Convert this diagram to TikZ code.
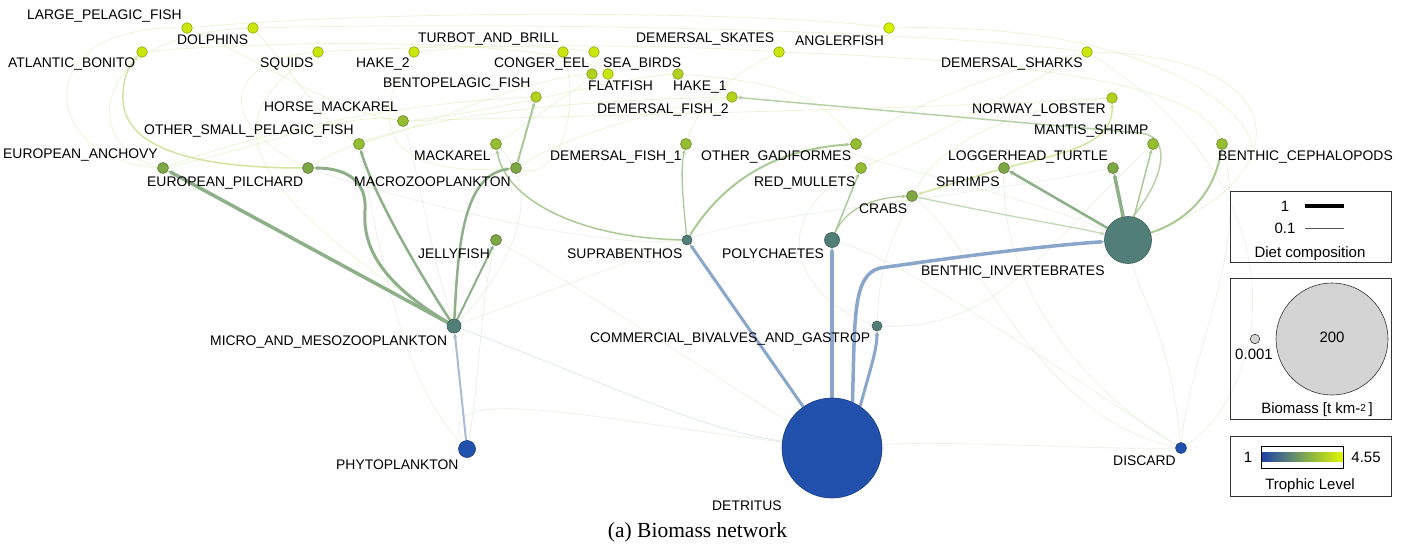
\documentclass[tikz,border=0pt]{standalone}
\usepackage{fontspec}
\setmainfont{Liberation Sans}
\newfontfamily\capfont{Liberation Serif}
\usetikzlibrary{arrows.meta,backgrounds}
\definecolor{tA}{HTML}{2251AD}
\definecolor{tT}{HTML}{527E78}
\definecolor{tB}{HTML}{7DA744}
\definecolor{tC}{HTML}{94BD32}
\definecolor{tD}{HTML}{B0D21F}
\definecolor{tE}{HTML}{C9E60E}
\definecolor{tF}{HTML}{D6F000}
\definecolor{eblue}{HTML}{8AA6CA}
\definecolor{eblueL}{HTML}{A8BCD8}
\definecolor{egreen}{HTML}{8DB088}
\definecolor{elgreen}{HTML}{A9C995}
\definecolor{eyg}{HTML}{CFE5A0}
\definecolor{efaint}{HTML}{D5E4C6}
\definecolor{legc}{HTML}{333333}
\definecolor{cbA}{HTML}{1C3FA6}
\definecolor{cbB}{HTML}{5A8278}
\definecolor{cbC}{HTML}{96BE3A}
\definecolor{cbD}{HTML}{E2F700}
\pgfdeclarehorizontalshading{tlshade}{20bp}{color(0bp)=(cbA); color(25bp)=(cbA); color(42bp)=(cbB); color(58bp)=(cbC); color(75bp)=(cbD); color(100bp)=(cbD)}
\tikzset{
  sp/.style={circle, inner sep=0pt, line width=0.6pt},
  lbl/.style={anchor=base west, inner sep=0pt, font=\fontsize{13.9}{16}\selectfont},
  leg/.style={anchor=base, inner sep=0pt, font=\fontsize{15}{18}\selectfont},
  arr/.style={-{Stealth[length=4.5pt,width=4pt]}},
  eB/.style={arr, draw=eblue},
  eBl/.style={arr, draw=eblueL},
  eG/.style={arr, draw=egreen},
  eLG/.style={arr, draw=elgreen},
  eYG/.style={arr, draw=eyg},
  fy/.style={draw=eyg, line width=0.8pt, opacity=0.42},
  fg/.style={draw=efaint, line width=0.7pt, opacity=0.5},
  fb/.style={draw=eblueL, line width=0.7pt, opacity=0.4},
  legbox/.style={draw=legc, line width=0.8pt, inner sep=0pt, minimum width=161pt}
}
\newcommand\species[8]{%
  \node[sp, minimum size=#4pt, fill=#5, draw=#5!72!black] (#1) at (#2,#3) {};
  \node[lbl] (#1-lab) at (#6,#7+5) {#8};}
\begin{document}
\begin{tikzpicture}[x=1pt,y=-1pt]
\useasboundingbox (0,0) rectangle (1410,548);
% ---------- species ----------
\species{LPF}{187}{28}{10.6}{tE}{27}{15}{LARGE\_PELAGIC\_FISH}
\species{DOL}{253}{28}{10.6}{tE}{177}{40}{DOLPHINS}
\species{ATB}{142}{52}{10.6}{tE}{8}{63}{ATLANTIC\_BONITO}
\species{SQU}{318}{52}{10.6}{tE}{260}{63}{SQUIDS}
\species{HKB}{414}{52}{10.6}{tE}{356}{63}{HAKE\_2}
\species{TUR}{563}{52}{10.6}{tE}{418}{38}{TURBOT\_AND\_BRILL}
\species{CON}{594}{52}{10.6}{tE}{494}{63}{CONGER\_EEL}
\species{SEA}{608}{74}{10.6}{tE}{603}{63}{SEA\_BIRDS}
\species{FLA}{592}{74}{10.6}{tD}{588}{86}{FLATFISH}
\species{HKA}{678}{74}{10.6}{tD}{673}{86}{HAKE\_1}
\species{BEN}{536}{97}{10.6}{tD}{383}{83}{BENTOPELAGIC\_FISH}
\species{DSK}{779}{52}{10.6}{tE}{636}{38}{DEMERSAL\_SKATES}
\species{ANG}{889}{28}{10.6}{tF}{795}{41}{ANGLERFISH}
\species{DSH}{1087}{52}{10.6}{tE}{941}{63}{DEMERSAL\_SHARKS}
\species{DFB}{732}{97}{10.6}{tD}{597}{109}{DEMERSAL\_FISH\_2}
\species{HOR}{403}{121}{11}{tC}{264}{107}{HORSE\_MACKAREL}
\species{OSP}{359}{144}{11}{tC}{144}{130}{OTHER\_SMALL\_PELAGIC\_FISH}
\species{MAC}{496}{144}{11}{tC}{414}{156}{MACKAREL}
\species{DFA}{686}{144}{11}{tC}{550}{156}{DEMERSAL\_FISH\_1}
\species{OGA}{856}{144}{11}{tC}{701}{156}{OTHER\_GADIFORMES}
\species{NOR}{1112}{98}{10.6}{tD}{972}{109}{NORWAY\_LOBSTER}
\species{MAN}{1153}{144}{11}{tC}{1034}{130}{MANTIS\_SHRIMP}
\species{BCE}{1222}{144}{11}{tC}{1218}{156}{BENTHIC\_CEPHALOPODS}
\species{LOG}{1113}{168}{11}{tB}{948}{156}{LOGGERHEAD\_TURTLE}
\species{SHR}{1004}{168}{11}{tB}{936}{181}{SHRIMPS}
\species{RMU}{861}{168}{11}{tC}{754}{181}{RED\_MULLETS}
\species{CRA}{912}{196}{11}{tB}{859}{208}{CRABS}
\species{ANC}{163}{168}{11}{tB}{3}{154}{EUROPEAN\_ANCHOVY}
\species{PIL}{308}{168}{11}{tB}{147}{181}{EUROPEAN\_PILCHARD}
\species{MZP}{516}{168}{11}{tB}{354}{181}{MACROZOOPLANKTON}
\species{JEL}{496}{240}{11}{tB}{418}{253}{JELLYFISH}
\species{SUP}{687}{240}{10}{tT}{567}{253}{SUPRABENTHOS}
\species{POL}{832}{240}{15}{tT}{722}{253}{POLYCHAETES}
\species{BIN}{1128}{240}{47}{tT}{921}{270}{BENTHIC\_INVERTEBRATES}
\species{MIC}{454}{326}{14}{tT}{210}{340}{MICRO\_AND\_MESOZOOPLANKTON}
\species{COM}{877}{326}{10}{tT}{590}{337}{COMMERCIAL\_BIVALVES\_AND\_GASTROP}
\species{PHY}{467}{449}{17}{tA}{336}{464}{PHYTOPLANKTON}
\species{DET}{832}{448}{100}{tA}{712}{505}{DETRITUS}
\species{DIS}{1181}{448}{11}{tA}{1113}{460}{DISCARD}
% ---------- connectors ----------
\begin{scope}[on background layer]
% faint top web
\draw[fy] (ANC) .. controls (40,160) and (25,25) .. (LPF);
\draw[fy] (ANC) .. controls (85,150) and (80,35) .. (DOL);
\draw[fy] (PIL) .. controls (210,120) and (230,60) .. (SQU);
\draw[fy] (LPF) .. controls (400,8) and (780,12) .. (ANG);
\draw[fy] (DOL) .. controls (500,22) and (900,28) .. (DSH);
\draw[fy] (SQU) .. controls (500,42) and (700,46) .. (DSK);
\draw[fy] (HKB) .. controls (480,45) and (540,45) .. (CON);
\draw[fy] (ATB) .. controls (300,38) and (560,40) .. (SEA);
\draw[fy] (DSH) .. controls (1300,55) and (1300,180) .. (BIN);
\draw[fy] (ANG) .. controls (1250,20) and (1290,190) .. (BCE);
\draw[fy] (DSK) .. controls (1000,60) and (1200,80) .. (BCE);
\draw[fy] (HOR) .. controls (500,112) and (600,80) .. (HKA);
\draw[fy] (OSP) .. controls (450,118) and (520,80) .. (FLA);
\draw[fy] (ANC) .. controls (300,118) and (450,100) .. (BEN);
\draw[fy] (PIL) .. controls (400,110) and (600,100) .. (DFB);
\draw[fy] (MAC) .. controls (560,100) and (600,72) .. (FLA);
\draw[fy] (MZP) .. controls (560,140) and (650,110) .. (DFB);
\draw[fy] (DFA) .. controls (700,100) and (740,70) .. (DSK);
\draw[fy] (OGA) .. controls (900,110) and (1000,70) .. (DSH);
\draw[fy] (RMU) .. controls (950,130) and (1050,70) .. (DSH);
\draw[fy] (CRA) .. controls (950,120) and (1080,100) .. (NOR);
\draw[fy] (SQU) .. controls (230,110) and (210,170) .. (MIC);
\draw[fy] (HKB) .. controls (380,100) and (360,180) .. (MZP);
\draw[fy] (HOR) .. controls (600,115) and (900,110) .. (NOR);
\draw[fy] (ANC) .. controls (250,150) and (350,110) .. (HOR);
\draw[fy] (TUR) .. controls (580,110) and (560,180) .. (MZP);
\draw[fy] (DOL) .. controls (300,80) and (320,120) .. (OSP);
\draw[fy] (LPF) .. controls (260,60) and (330,110) .. (HOR);
\draw[fy] (HKA) .. controls (760,80) and (820,90) .. (OGA);
% faint lower web
\draw[fg] (DIS) .. controls (1190,350) and (1250,250) .. (BCE);
\draw[fg] (DIS) .. controls (1170,330) and (1140,300) .. (BIN);
\draw[fg] (DIS) .. controls (1100,400) and (1000,300) .. (SHR);
\draw[fg] (DIS) .. controls (1260,400) and (1320,200) .. (DSH);
\draw[fg] (DIS) .. controls (1040,420) and (980,250) .. (CRA);
\draw[fg] (DET) .. controls (950,440) and (1100,450) .. (DIS);
\draw[fb] (MIC) .. controls (600,380) and (700,430) .. (DET);
\draw[fg] (COM) .. controls (880,250) and (900,225) .. (CRA);
\draw[fg] (COM) .. controls (800,300) and (760,220) .. (RMU);
\draw[fg] (MIC) -- (SUP);
\draw[fg] (MIC) .. controls (500,280) and (550,200) .. (MAC);
\draw[fg] (MIC) .. controls (430,250) and (420,180) .. (HOR);
\draw[fg] (PHY) .. controls (400,380) and (380,250) .. (OSP);
\draw[fg] (PHY) .. controls (480,380) and (480,300) .. (JEL);
\draw[fg] (JEL) .. controls (600,300) and (720,380) .. (DET);
\draw[fg] (SUP) .. controls (600,250) and (400,200) .. (PIL);
\draw[fg] (SUP) .. controls (750,215) and (950,200) .. (LOG);
\draw[fg] (BIN) .. controls (1000,185) and (800,150) .. (OGA);
\draw[fg] (POL) .. controls (900,260) and (1000,330) .. (DIS);
\draw[fg] (COM) .. controls (1000,330) and (1040,250) .. (MAN);
\draw[fg] (DET) .. controls (600,420) and (430,380) .. (PHY);
% visible links
\draw[eLG, line width=1.3pt, opacity=0.7] (CRA) .. controls (1000,215) and (1080,228) .. (BIN);
\draw[eLG, line width=1.5pt, opacity=0.85] (BIN.78) .. controls (1170,170) and (1168,135) .. (1140,133) -- (DFB);
\draw[eYG, line width=1.5pt] (SHR) -- (CRA);
\draw[eYG, line width=1.5pt] (SHR) .. controls (1080,150) and (1113,140) .. (NOR);
\draw[eYG, line width=1.5pt] (PIL) .. controls (200,168) and (125,150) .. (123,100) .. controls (122,75) and (132,62) .. (ATB);
\draw[eLG, line width=2pt] (MZP) -- (BEN);
\draw[eLG, line width=2pt] (SUP) .. controls (715,195) and (760,150) .. (OGA);
\draw[eLG, line width=1.3pt] (SUP) .. controls (683,200) and (680,170) .. (DFA);
\draw[eLG, line width=1.5pt] (SUP) .. controls (580,238) and (505,200) .. (MAC);
\draw[eLG, line width=1.5pt] (POL) -- (RMU);
\draw[eLG, line width=1.2pt] (POL) .. controls (845,210) and (870,198) .. (CRA);
\draw[eG, line width=2.5pt] (BIN) -- (SHR);
\draw[eG, line width=3.5pt] (BIN) -- (LOG);
\draw[eLG, line width=1.5pt] (BIN) -- (MAN);
\draw[eLG, line width=2pt] (BIN) .. controls (1190,220) and (1215,190) .. (BCE);
\draw[eG, line width=3.5pt] (MIC) -- (ANC);
\draw[eG, line width=3pt] (MIC) .. controls (385,285) and (362,250) .. (365,210) .. controls (367,180) and (345,168) .. (PIL);
\draw[eG, line width=2.5pt] (MIC) .. controls (430,290) and (375,200) .. (OSP);
\draw[eG, line width=2.5pt] (MIC) .. controls (458,250) and (462,175) .. (MZP);
\draw[eG, line width=2pt] (MIC) -- (JEL);
\draw[eBl, line width=2pt] (PHY) -- (MIC);
\draw[eB, line width=3pt] (DET) -- (SUP);
\draw[eB, line width=3.5pt] (DET) -- (POL);
\draw[eB, line width=3.5pt] (DET.66) .. controls (855,320) and (852,275) .. (880,268) .. controls (950,258) and (1040,246) .. (BIN);
\draw[eB, line width=3pt] (DET.56) .. controls (870,370) and (877,350) .. (COM);
\end{scope}
% ---------- legend ----------
\node[legbox, minimum height=71pt] (legD) at (1310.5,226.5) {};
\node[leg] (legD1) at (1285,211.4) {1};
\node[leg] (legD01) at (1285,233.4) {0.1};
\coordinate (wA) at (1305,206); \coordinate (wB) at (1344,206);
\coordinate (wC) at (1305,228); \coordinate (wD) at (1344,228);
\draw[line width=3.5pt, black] (wA) -- (wB);
\draw[line width=1pt, black!65] (wC) -- (wD);
\node[leg] (legDt) at (1310,257.4) {Diet composition};
\node[legbox, minimum height=141pt] (legB) at (1310.5,348.5) {};
\node[circle, draw=legc, fill=black!17, line width=0.6pt, minimum size=9.5pt, inner sep=0pt] (bsmall) at (1255,339) {};
\node[leg] (bsmallt) at (1254,359.4) {0.001};
\node[circle, draw=legc, fill=black!17, line width=0.6pt, minimum size=112pt, inner sep=0pt] (bbig) at (1332,339) {};
\node[leg] (bbigt) at (1332,342.4) {200};
\node[leg] (legBt) at (1317,413.4) {Biomass [t km-\raisebox{1.5pt}{\fontsize{10}{12}\selectfont 2}\,]};
\node[legbox, minimum height=60pt] (legT) at (1310.5,466) {};
\node[draw=black, line width=0.8pt, shading=tlshade, minimum width=82pt, minimum height=22pt, inner sep=0pt] (cbar) at (1302,457) {};
\node[leg] (cb1) at (1248,462.4) {1};
\node[leg] (cb2) at (1366,462.4) {4.55};
\node[leg] (legTt) at (1310,489.4) {Trophic Level};
% ---------- caption ----------
\node[anchor=base, inner sep=0pt, font=\capfont\fontsize{21.5}{25}\selectfont] (caption) at (697.5,537) {(a) Biomass network};
\end{tikzpicture}
\end{document}
